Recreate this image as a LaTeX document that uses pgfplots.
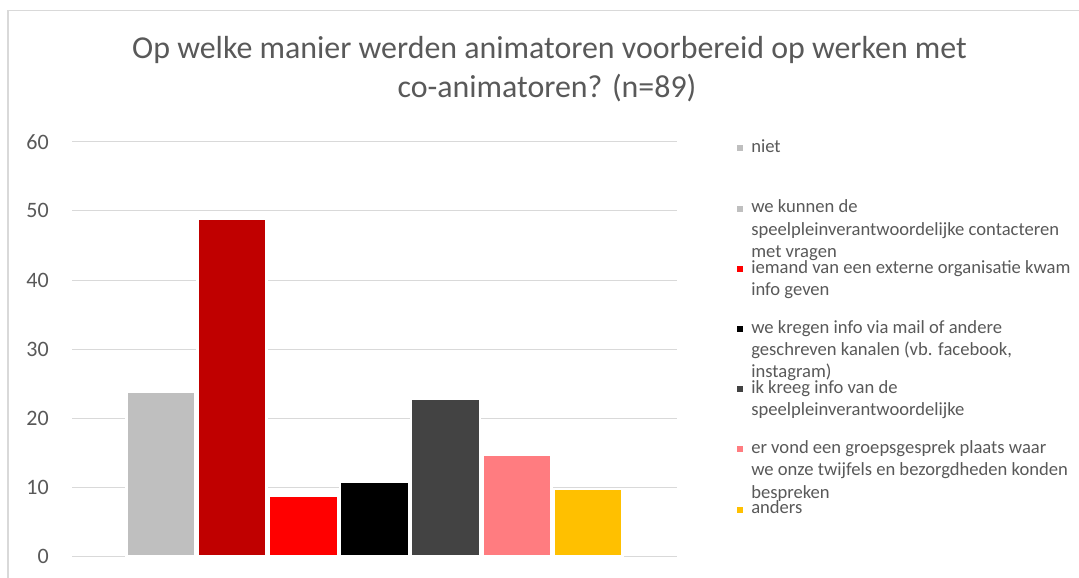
\documentclass[border=0pt]{standalone}
\usepackage{fontspec}
\setmainfont{Carlito}
\usepackage{pgfplots}
\pgfplotsset{compat=1.18}
\definecolor{txtgray}{HTML}{595959}
\definecolor{gridgray}{HTML}{D9D9D9}
\definecolor{c1}{HTML}{BFBFBF}
\definecolor{c2}{HTML}{C00000}
\definecolor{c3}{HTML}{FF0000}
\definecolor{c4}{HTML}{000000}
\definecolor{c5}{HTML}{434343}
\definecolor{c6}{HTML}{FF7C80}
\definecolor{c7}{HTML}{FFC000}
\pgfplotsset{
  legsq/.style={legend image code/.code={\draw[##1,draw=none] (0pt,15.8pt) rectangle (6pt,21.8pt); \path (13.3pt,15pt);}},
  legsqc/.style={legend image code/.code={\draw[##1,draw=none,fill=#1] (0pt,15.8pt) rectangle (6pt,21.8pt); \path (13.3pt,15pt);}},
}
\newcommand{\leg}[1]{\parbox[t][60.2pt][t]{330pt}{\fontsize{18.6pt}{22.3pt}\selectfont\leavevmode\color{txtgray}\strut #1}}
\begin{document}
\begin{tikzpicture}
\useasboundingbox (0pt,0pt) rectangle (1079pt,578pt);
\fill[white] (0pt,0pt) rectangle (1079pt,578pt);
\draw[gridgray, line width=1.5pt] (8pt,0pt) -- (8pt,567.5pt) -- (1079pt,567.5pt);
\node[anchor=base, text=txtgray, font=\fontsize{31.9pt}{38.5pt}\selectfont, inner sep=0pt] at (549.5pt,519pt) {Op welke manier werden animatoren voorbereid op werken met};
\node[anchor=base, text=txtgray, font=\fontsize{31.9pt}{38.5pt}\selectfont, inner sep=0pt] at (547pt,480.5pt) {co-animatoren? (n=89)};
\begin{axis}[
  at={(72pt,21.3pt)}, anchor=south west,
  scale only axis, width=605pt, height=415pt,
  xmin=-1.248, xmax=7.248, ymin=0, ymax=60,
  ytick={0,10,...,60}, xtick=\empty,
  ymajorgrids, major grid style={gridgray, line width=1pt},
  axis line style={draw=none}, major tick length=0pt,
  yticklabel style={anchor=east, inner sep=0pt, xshift=-23pt, text=txtgray, font=\fontsize{22pt}{26pt}\selectfont},
  /pgf/number format/assume math mode=true,
  every axis plot/.append style={ybar, bar width=0.968, bar shift=0pt, draw=white, line width=2.5pt, legsq},
  legend style={at={(1.09868,1.0113)}, anchor=north west, draw=none, fill=none, inner sep=0pt, outer sep=0pt, row sep=0pt, nodes={inner sep=0pt, text depth=}},
  legend cell align=left,
]
\addplot[fill=c1] coordinates {(0,23.8)};
\addlegendentry{\leg{niet}}
\addplot[fill=c2, legsqc=c1] coordinates {(1,48.9)};
\addlegendentry{\leg{we kunnen de\newline speelpleinverantwoordelijke contacteren\newline met vragen}}
\addplot[fill=c3] coordinates {(2,8.8)};
\addlegendentry{\leg{iemand van een externe organisatie kwam\newline info geven}}
\addplot[fill=c4] coordinates {(3,10.8)};
\addlegendentry{\leg{we kregen info via mail of andere\newline geschreven kanalen (vb. facebook,\newline instagram)}}
\addplot[fill=c5] coordinates {(4,22.8)};
\addlegendentry{\leg{ik kreeg info van de\newline speelpleinverantwoordelijke}}
\addplot[fill=c6] coordinates {(5,14.8)};
\addlegendentry{\leg{er vond een groepsgesprek plaats waar\newline we onze twijfels en bezorgdheden konden\newline bespreken}}
\addplot[fill=c7] coordinates {(6,9.8)};
\addlegendentry{\leg{anders}}
\end{axis}
\end{tikzpicture}
\end{document}
